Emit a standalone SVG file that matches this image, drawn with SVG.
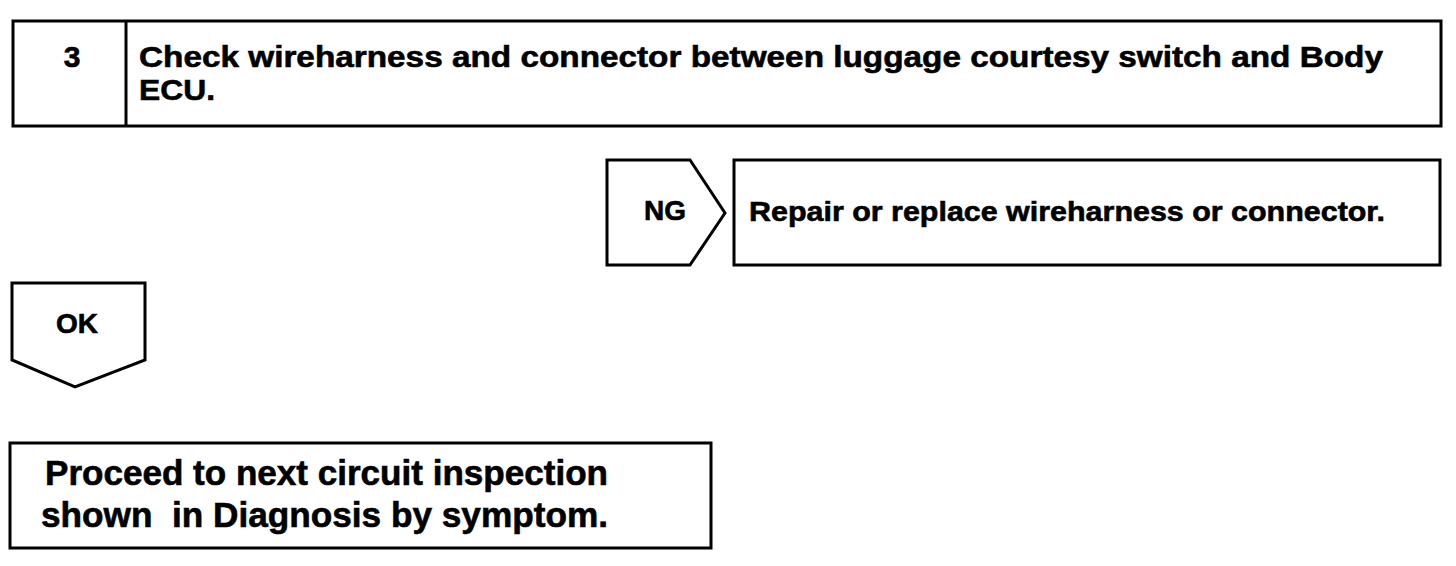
<svg xmlns="http://www.w3.org/2000/svg" width="1456" height="566" viewBox="0 0 1456 566">
<style>
.box{fill:#fff;stroke:#000;stroke-width:3}
.t{font-family:"Liberation Sans",Arial,sans-serif;font-weight:bold;fill:#000;stroke:#000;stroke-width:0.6}
</style>
<rect width="1456" height="566" fill="#fff"/>
<g id="step3">
<rect class="box" x="13" y="21" width="1428" height="105"/>
<line x1="126" y1="21" x2="126" y2="126" stroke="#000" stroke-width="3"/>
<text class="t" x="72" y="67" font-size="30" text-anchor="middle">3</text>
<text class="t" x="139" y="67" font-size="30" textLength="1244" lengthAdjust="spacingAndGlyphs">Check wireharness and connector between luggage courtesy switch and Body</text>
<text class="t" x="139" y="100" font-size="30" textLength="76" lengthAdjust="spacingAndGlyphs">ECU.</text>
</g>
<g id="connectors">
<g id="ng">
<polygon class="box" points="607,160 690,160 725,213 690,265 607,265"/>
<text class="t" x="665" y="220" font-size="28" text-anchor="middle">NG</text>
</g>
<g id="ok">
<polygon class="box" points="12,283 145,283 145,360 75,387 12,360"/>
<text class="t" x="77" y="333" font-size="28" text-anchor="middle">OK</text>
</g>
</g>
<g id="repair">
<rect class="box" x="734" y="160" width="706" height="105"/>
<text class="t" x="749" y="221" font-size="28" textLength="636" lengthAdjust="spacingAndGlyphs">Repair or replace wireharness or connector.</text>
</g>
<g id="proceed">
<rect class="box" x="10" y="443" width="701" height="105"/>
<text class="t" x="45" y="485" font-size="35" textLength="563" lengthAdjust="spacingAndGlyphs">Proceed to next circuit inspection</text>
<text class="t" x="41" y="527" font-size="35" textLength="567" lengthAdjust="spacingAndGlyphs" xml:space="preserve">shown  in Diagnosis by symptom.</text>
</g>
</svg>
